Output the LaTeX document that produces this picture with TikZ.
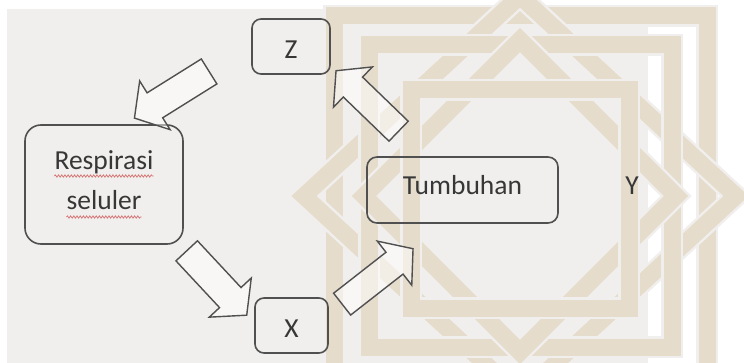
\documentclass[tikz,border=0pt]{standalone}
\usepackage{fontspec}
\setmainfont{Carlito}
\usepackage{tikz}
\usetikzlibrary{positioning,shapes.arrows,decorations.pathmorphing}
\definecolor{panelgray}{RGB}{241,239,237}
\definecolor{wmtan}{RGB}{229,220,204}
\definecolor{edgegray}{RGB}{80,80,80}
\definecolor{textgray}{RGB}{55,55,55}
\definecolor{spellred}{RGB}{214,120,120}
\tikzset{
  proc-box/.style={draw=edgegray, line width=1.6pt, rounded corners=9pt,
    font=\fontsize{27.5}{33}\selectfont, text=textgray, inner sep=0pt},
  word-label/.style={font=\fontsize{27.5}{33}\selectfont, text=textgray,
    inner sep=0pt, anchor=base},
  block-arrow/.style={single arrow, draw=edgegray, line width=1.4pt,
    fill=white, fill opacity=0.5, inner xsep=0pt, inner ysep=14pt,
    minimum height=88pt, minimum width=56pt, single arrow head extend=14pt,
    single arrow tip angle=100},
  spell-mark/.style={draw=spellred, line width=0.8pt, decorate,
    decoration={snake, amplitude=1.1pt, segment length=3.2pt}},
  wm-band/.style={draw=panelgray, line width=2.5pt, double=wmtan,
    double distance=17pt, line join=miter}
}
\begin{document}
\begin{tikzpicture}[x=1pt,y=-1pt]
\useasboundingbox (0,0) rectangle (744,363);
\fill[panelgray] (7,9) rectangle (648,363);
% interlaced background ornament
\begin{scope}
  \clip (0,0) rectangle (744,363);
  \draw[wm-band] (334,16) -- (707,16) -- (707,376) -- (334,376) -- cycle;
  \draw[wm-band] (520,-4) -- (736,196) -- (520,396) -- (304,196) -- cycle;
  \draw[wm-band] (369,45) -- (672,45) -- (672,347) -- (369,347) -- cycle;
  \draw[wm-band] (520,40) -- (676,196) -- (520,352) -- (364,196) -- cycle;
  \draw[wm-band] (411,90) -- (629,90) -- (629,308) -- (411,308) -- cycle;
\end{scope}

% boxes
\node[proc-box, rounded corners=16pt, minimum width=158pt, minimum height=119pt] (resp) at (104,184.5) {};
\node[word-label] (respA) at (104,170) {Respirasi};
\node[word-label] (respB) at (104,210) {seluler};
\draw[spell-mark] ([yshift=-6pt]respA.base west) -- ([yshift=-6pt]respA.base east);
\draw[spell-mark] ([yshift=-7pt]respB.base west) -- ([yshift=-7pt]respB.base east);

\node[proc-box, minimum width=78pt, minimum height=55pt, text height=24pt, text depth=0pt] (zbox) at (291,46.5) {Z};
\node[proc-box, minimum width=73pt, minimum height=55pt, text height=24pt, text depth=0pt] (xbox) at (291.5,325.5) {X};
\node[proc-box, rounded corners=10pt, minimum width=191pt, minimum height=66pt, text height=18pt, text depth=8pt] (tumb) at (462.5,190) {Tumbuhan};
\node[word-label] (ylab) at (632,195) {Y};

% block arrows of the cycle
\node[block-arrow, rotate=212] (toResp) at (177,91.5) {};
\node[block-arrow, rotate=-47] (toX) at (212.5,278.5) {};
\node[block-arrow, rotate=38, minimum height=90pt, inner ysep=13pt] (toTumb) at (373,280) {};
\node[block-arrow, rotate=136, minimum height=87pt, inner ysep=13pt] (toZ) at (371.5,105) {};
\end{tikzpicture}
\end{document}
